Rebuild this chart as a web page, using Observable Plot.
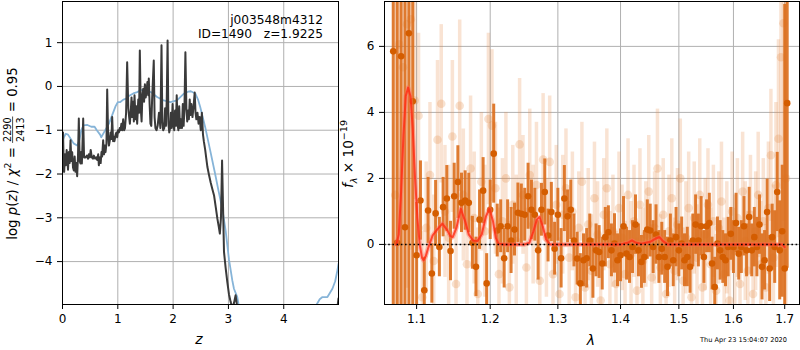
<!DOCTYPE html>
<html><head><meta charset="utf-8">
<script src="https://cdn.jsdelivr.net/npm/d3@7"></script>
<script src="https://cdn.jsdelivr.net/npm/@observablehq/plot@0.6"></script>
<style>
body{margin:0;background:#fff;}
#wrap{position:relative;width:800px;height:350px;overflow:hidden;background:#fff;}
#wrap > svg{position:absolute;top:0;}
</style></head><body><div id="wrap"></div>
<script>
// ---------- Left panel: redshift PDF ----------
const zTicks = [0, 1, 2, 3, 4];
const pzTicks = [-4, -3, -2, -1, 0, 1];
const zPdf = [0.000,0.010,0.020,0.030,0.045,0.060,0.075,0.085,0.100,0.115,
0.130,0.145,0.160,0.175,0.190,0.205,0.220,0.235,0.250,0.265,
0.280,0.295,0.310,0.325,0.337,0.350,0.362,0.374,0.390,0.416,
0.440,0.460,0.476,0.495,0.510,0.530,0.550,0.567,0.590,0.610,
0.627,0.645,0.657,0.675,0.690,0.705,0.717,0.735,0.750,0.765,
0.778,0.795,0.808,0.825,0.840,0.856,0.870,0.885,0.898,0.915,
0.930,0.940,0.960,0.975,0.989,1.005,1.020,1.035,1.049,1.065,
1.080,1.097,1.115,1.130,1.150,1.169,1.190,1.205,1.218,1.235,
1.248,1.260,1.275,1.290,1.302,1.320,1.335,1.350,1.370,1.385,
1.398,1.415,1.430,1.445,1.460,1.475,1.490,1.505,1.520,1.535,
1.550,1.560,1.575,1.590,1.605,1.620,1.650,1.665,1.680,1.700,
1.720,1.745,1.770,1.790,1.805,1.820,1.840,1.855,1.870,1.885,
1.900,1.915,1.930,1.945,1.960,1.975,1.990,2.005,2.020,2.035,
2.050,2.065,2.080,2.095,2.110,2.125,2.140,2.160,2.175,2.190,
2.205,2.222,2.240,2.255,2.270,2.285,2.300,2.315,2.330,2.350,
2.370,2.390,2.405,2.420,2.440,2.460,2.480,2.500,2.520,2.540,
2.555,2.580,2.600,2.620,2.650,2.680,2.710,2.740,2.770,2.800,
2.825,2.845,2.865,2.885,2.900,2.920,2.950,2.980,3.010,3.040,
3.070,3.100,3.130,3.150,3.175,3.200,4.950,4.975,4.990];
const logPdf = [-1.95,-1.05,-1.70,-1.95,-1.55,-1.80,-1.45,-1.62,-1.90,-1.50,
-1.75,-1.23,-1.70,-1.50,-1.85,-1.92,-1.60,-1.95,-1.75,-2.05,
-1.60,-0.73,-1.70,-1.76,-1.50,-1.76,-1.30,-0.73,-1.62,-1.62,
-1.58,-1.65,-1.55,-1.62,-1.45,-1.62,-1.65,-1.58,-1.65,-1.62,
-1.68,-1.55,-1.80,-1.62,-1.75,-1.50,-1.60,-1.23,-1.55,-1.35,
-1.50,-1.30,-0.07,-1.10,-1.35,-1.23,-1.05,-1.20,-0.70,-1.25,
-1.15,-1.25,-1.10,-1.05,-1.16,-1.00,-1.05,-0.95,-1.00,-0.85,
-1.00,-0.75,-1.00,-0.95,-0.60,0.55,-0.50,-0.70,-0.85,-0.55,
-0.25,-0.70,-0.35,-0.80,-0.20,-0.75,-0.45,-0.85,-0.30,-0.60,
0.82,-0.50,-0.80,-0.20,-0.05,-0.35,0.05,-0.25,-0.10,0.10,
-0.20,0.18,-0.40,-0.85,-0.90,-0.30,0.59,-0.70,-0.95,-1.00,
-0.90,-0.60,-0.95,0.94,-0.80,-1.00,-0.95,-0.50,-0.90,-0.30,
1.05,-0.85,-1.05,-0.95,-0.60,-0.95,-0.40,-0.85,-1.00,-0.55,
-0.90,-0.20,-0.85,-1.00,-0.45,-0.95,-0.75,-0.95,-0.40,-0.90,
-0.50,0.78,-0.50,-0.80,-0.55,-0.75,-0.30,-0.65,-0.40,-0.70,
-0.45,-0.14,-0.60,-0.75,-0.60,-0.85,-0.70,-1.00,-0.60,-1.10,
-1.25,-1.45,-1.65,-1.84,-2.03,-2.20,-2.35,-2.49,-2.75,-3.02,
-3.20,-3.36,-3.00,-1.69,-2.60,-3.78,-4.15,-4.47,-4.75,-4.92,
-5.05,-4.95,-4.77,-4.95,-5.30,-7.00,-7.00,-5.00,-4.84];
const zPrior = [0.000,0.025,0.060,0.100,0.150,0.200,0.265,0.300,0.340,0.380,
0.450,0.520,0.580,0.620,0.680,0.700,0.750,0.840,0.900,0.960,
1.000,1.040,1.100,1.150,1.200,1.280,1.350,1.420,1.500,1.560,
1.600,1.710,1.830,1.950,2.070,2.190,2.270,2.320,2.400,2.450,
2.490,2.580,2.670,2.760,2.820,2.890,2.950,3.010,3.070,3.100,
3.160,3.200,3.250,4.550,4.600,4.650,4.700,4.790,4.880,4.930,
4.970,4.990];
const logPrior = [-1.25,-1.16,-1.08,-1.10,-1.20,-1.30,-1.35,-1.25,-1.00,-0.89,
-0.88,-0.92,-0.92,-1.00,-1.10,-1.16,-1.05,-0.85,-0.65,-0.45,
-0.36,-0.36,-0.30,-0.28,-0.22,-0.16,-0.13,-0.08,-0.09,-0.12,
-0.13,-0.24,-0.32,-0.36,-0.32,-0.17,-0.12,-0.11,-0.16,-0.30,
-0.47,-0.93,-1.46,-2.00,-2.38,-2.80,-3.30,-3.95,-4.43,-4.62,
-4.81,-5.10,-6.50,-6.50,-4.97,-4.86,-4.81,-4.81,-4.62,-4.45,
-4.20,-4.05];

// ---------- Right panel: 1D spectrum ----------
const lamTicks = [1.1, 1.2, 1.3, 1.4, 1.5, 1.6, 1.7];
const fTicks = [0, 2, 4, 6];
const lamA = [1.070,1.075,1.080,1.085,1.090,1.095,1.100,1.105,1.110,1.115,
1.120,1.125,1.130,1.135,1.140,1.145,1.150,1.155,1.160,1.165,
1.170,1.175,1.180,1.185,1.190,1.195,1.200,1.205,1.210,1.215,
1.220,1.225,1.230,1.235,1.240,1.245,1.250,1.255,1.260,1.265,
1.270,1.275,1.280,1.285,1.290,1.295,1.300,1.305,1.310,1.315,
1.320,1.325,1.330,1.335,1.340,1.345,1.350,1.355,1.360,1.365,
1.370,1.375,1.380,1.385,1.390,1.395,1.400,1.405,1.410,1.415,
1.420,1.425,1.430,1.435,1.440,1.445,1.450,1.455,1.460,1.465,
1.470,1.475,1.480,1.485,1.490,1.495,1.500,1.505,1.510,1.515,
1.520,1.525,1.530,1.535,1.540,1.545,1.550,1.555,1.560,1.565,
1.570,1.575,1.580,1.585,1.590,1.595,1.600,1.605,1.610,1.615,
1.620,1.625,1.630,1.635,1.640,1.645,1.650,1.655,1.660,1.665,
1.670,1.675,1.680,1.685,1.690,1.695,1.700,1.705];
const fluxA = [5.85,0.05,5.70,0.52,6.40,4.34,-0.33,1.33,-1.39,1.03,
-0.88,0.94,-0.08,1.13,1.39,-0.20,1.46,1.89,1.26,1.33,
1.26,0.05,-0.68,0.75,1.63,-1.18,1.05,2.75,0.42,0.55,
-0.42,0.55,0.12,0.45,0.96,0.93,0.90,1.46,1.05,0.90,
-0.18,1.05,1.59,0.27,0.98,-0.13,0.90,-0.42,1.39,0.85,
1.05,0.12,-0.43,-1.18,-0.48,-0.42,0.12,-0.73,-0.18,-0.23,
-0.58,0.22,0.37,-0.18,0.03,-0.48,-0.33,0.55,-0.28,-0.38,
-0.08,0.60,-0.18,-0.53,-0.38,0.45,0.42,-0.08,0.30,-0.38,
-0.13,-0.38,-0.68,0.12,-0.48,0.22,-0.18,0.03,-0.48,-0.38,
-0.68,0.12,0.60,0.12,0.55,-0.38,0.55,0.65,-0.58,-1.29,
0.03,-0.18,-0.38,-0.48,-0.08,0.32,-0.08,0.65,-0.28,-0.08,
0.55,-0.18,0.83,-0.18,0.22,-0.08,0.60,-0.68,-0.48,0.98,
-0.73,0.22,-0.08,1.59,-0.18,0.40,-0.73,4.28];
const errA = [9,9,9,9,9,7,1.6,1.2,1.0,1.0,
0.9,1.0,0.9,0.9,1.0,0.9,1.0,1.1,0.9,0.9,
0.9,0.8,0.9,0.9,1.0,0.9,0.9,1.5,0.8,0.8,
0.9,0.8,1.0,0.8,0.9,0.9,0.8,1.0,0.9,0.8,
0.9,0.8,1.0,0.8,0.9,0.8,0.8,0.9,1.0,0.8,
0.9,0.8,0.8,0.9,0.8,0.9,0.8,0.9,0.8,0.8,
0.8,0.9,0.8,0.8,0.9,0.8,0.8,0.9,0.8,0.8,
0.8,0.9,0.8,0.8,0.8,0.9,0.8,0.8,0.9,0.8,
0.8,0.8,0.9,0.8,0.8,0.9,0.8,0.8,0.8,0.9,
0.8,0.8,0.9,0.8,0.9,0.8,0.8,0.9,0.8,0.9,
0.8,0.9,0.8,0.8,0.9,0.8,0.8,0.9,0.8,0.8,
0.9,0.8,0.9,0.8,0.9,0.9,0.9,1.0,0.9,1.0,
1.0,1.0,1.1,1.2,1.5,2.0,8,5];
const lamB = [1.0725,1.0775,1.0825,1.0875,1.0925,1.0975,1.1025,1.1075,1.1125,1.1175,
1.1225,1.1275,1.1325,1.1375,1.1425,1.1475,1.1525,1.1575,1.1625,1.1675,
1.1725,1.1775,1.1825,1.1875,1.1925,1.1975,1.2025,1.2075,1.2125,1.2175,
1.2225,1.2275,1.2325,1.2375,1.2425,1.2475,1.2525,1.2575,1.2625,1.2675,
1.2725,1.2775,1.2825,1.2875,1.2925,1.2975,1.3025,1.3075,1.3125,1.3175,
1.3225,1.3275,1.3325,1.3375,1.3425,1.3475,1.3525,1.3575,1.3625,1.3675,
1.3725,1.3775,1.3825,1.3875,1.3925,1.3975,1.4025,1.4075,1.4125,1.4175,
1.4225,1.4275,1.4325,1.4375,1.4425,1.4475,1.4525,1.4575,1.4625,1.4675,
1.4725,1.4775,1.4825,1.4875,1.4925,1.4975,1.5025,1.5075,1.5125,1.5175,
1.5225,1.5275,1.5325,1.5375,1.5425,1.5475,1.5525,1.5575,1.5625,1.5675,
1.5725,1.5775,1.5825,1.5875,1.5925,1.5975,1.6025,1.6075,1.6125,1.6175,
1.6225,1.6275,1.6325,1.6375,1.6425,1.6475,1.6525,1.6575,1.6625,1.6675,
1.6725,1.6775,1.6825,1.6875,1.6925,1.6975,1.7025];
const fluxB = [1.5,6.06,5.37,6.67,6.82,4.36,3.9,-1.6,0.5,2.1,
-0.5,3.17,4.26,1.0,0.2,3.27,-1.2,4.2,1.5,-0.6,
2.3,0.8,-1.5,1.9,0.4,3.8,3.6,1.7,-0.9,0.7,
2.0,-1.3,1.2,0.1,3.03,1.5,-0.7,2.1,0.6,1.8,
-1.1,2.57,0.2,2.5,-0.9,1.2,-1.5,0.9,1.7,-0.4,
1.0,-1.6,0.5,1.9,-1.3,0.6,-0.8,1.4,0.3,-1.7,
0.9,1.7,-0.6,0.4,-1.2,1.1,0.2,-0.9,1.5,-0.3,
0.7,-1.4,1.2,-0.5,0.3,1.6,-1.0,0.5,2.3,-0.7,
0.9,-1.5,0.4,1.4,-0.8,0.6,2.0,-1.1,0.2,1.1,
-1.6,0.8,-0.4,1.5,-1.3,0.3,1.2,-0.6,0.7,-1.4,
0.5,1.3,-0.9,0.2,-1.7,1.0,-0.2,0.8,-1.2,1.6,
0.1,-0.8,0.9,-1.5,0.4,1.5,-0.6,0.7,-1.3,1.1,
2.7,-0.4,1.8,3.2,5.67,6.7,2.0];
const errB = [8,8,8,8,7,3,2.5,2,2,2.2,
2,2.4,2.4,2,2.2,2.3,2,2.6,2,2,
2.2,2,2,2.1,2,2.6,2.3,2,2,1.9,
2,2,1.8,2,2,1.8,1.8,2,1.8,1.9,
1.8,2,1.8,2,1.7,1.8,1.7,1.8,1.8,1.7,
1.8,1.7,1.7,1.8,1.6,1.7,1.7,1.7,1.6,1.6,
1.7,1.8,1.6,1.7,1.6,1.7,1.6,1.6,1.7,1.6,
1.7,1.6,1.7,1.6,1.6,1.7,1.6,1.7,1.8,1.6,
1.7,1.6,1.7,1.8,1.6,1.7,1.8,1.6,1.7,1.7,
1.6,1.7,1.6,1.7,1.7,1.7,1.7,1.7,1.7,1.7,
1.7,1.8,1.7,1.7,1.7,1.8,1.7,1.8,1.7,1.8,
1.8,1.8,1.8,1.8,1.8,1.9,1.9,1.9,1.9,2,
2,2.2,2.5,3,4,6,8];
const modelLam = [1.074,1.077,1.080,1.083,1.086,1.089,1.092,1.095,1.098,1.101,
1.104,1.107,1.109,1.112,1.116,1.121,1.127,1.134,1.140,1.145,
1.148,1.153,1.159,1.165,1.170,1.176,1.182,1.188,1.194,1.199,
1.204,1.208,1.212,1.220,1.250,1.257,1.263,1.268,1.272,1.277,
1.282,1.288,1.400,1.412,1.419,1.426,1.435,1.450,1.460,1.466,
1.472,1.480,1.695,1.700];
const modelF = [0.00,0.30,1.60,3.30,4.50,4.75,4.50,3.50,2.00,0.80,
0.00,-0.40,-0.48,-0.35,-0.05,0.27,0.45,0.63,0.45,0.25,
0.22,0.50,1.08,0.70,0.30,0.12,0.10,0.30,0.85,1.08,
0.70,0.20,0.02,0.00,0.00,0.05,0.40,0.75,0.83,0.55,
0.15,0.00,0.00,0.05,0.12,0.05,0.02,0.08,0.18,0.22,
0.10,0.00,0.00,-0.08];

// ---------- build ----------
const wrap = document.getElementById("wrap");
const font = "DejaVu Sans";
const tickFont = 12;
const gridStyle = {stroke: "#b0b0b0", strokeOpacity: 1, strokeWidth: 1};
const minus = d => (d < 0 ? "\u2212" + Math.abs(d) : String(d));

const pdfRows = zPdf.map((z, i) => ({z, v: logPdf[i]}));
const priorRows = zPrior.map((z, i) => ({z, v: logPrior[i]}));

const left = Plot.plot({
  width: 340, height: 350,
  marginLeft: 62, marginRight: 2, marginTop: 1, marginBottom: 46,
  style: {fontFamily: font, fontSize: tickFont + "px", color: "black", background: "transparent"},
  x: {domain: [0, 4.99]},
  y: {domain: [-4.98, 1.94]},
  marks: [
    Plot.gridX(zTicks, gridStyle),
    Plot.gridY(pzTicks, gridStyle),
    Plot.line(priorRows, {x: "z", y: "v", stroke: "#86b4d8", strokeWidth: 1.8, clip: true}),
    Plot.line(pdfRows, {x: "z", y: "v", stroke: "#3a3a3a", strokeWidth: 2, clip: true}),
    Plot.axisX(zTicks, {tickSize: 5, tickPadding: 5, label: null, tickFormat: minus, fontSize: tickFont}),
    Plot.axisY(pzTicks, {tickSize: 5, tickPadding: 5, label: null, tickFormat: minus, fontSize: tickFont}),
    Plot.frame({stroke: "black", strokeWidth: 1})
  ]
});
left.style.left = "0px";
wrap.appendChild(left);

const rowsA = lamA.map((l, i) => ({l, f: fluxA[i], lo: fluxA[i] - errA[i], hi: fluxA[i] + errA[i]}));
const rowsB = lamB.map((l, i) => ({l, f: fluxB[i], lo: fluxB[i] - errB[i], hi: fluxB[i] + errB[i]}));
const modelRows = modelLam.map((l, i) => ({l, f: modelF[i]}));

const right = Plot.plot({
  width: 460, height: 350,
  marginLeft: 44, marginRight: 1, marginTop: 1, marginBottom: 46,
  style: {fontFamily: font, fontSize: tickFont + "px", color: "black", background: "transparent"},
  x: {type: "log", domain: [1.059, 1.730]},
  y: {domain: [-1.82, 7.36]},
  marks: [
    Plot.gridX(lamTicks, gridStyle),
    Plot.gridY(fTicks, gridStyle),
    Plot.ruleX(rowsB, {x: "l", y1: "lo", y2: "hi", stroke: "#e58a45", strokeOpacity: 0.24, strokeWidth: 3.5, clip: true}),
    Plot.dot(rowsB, {x: "l", y: "f", r: 4.3, fill: "#e58a45", fillOpacity: 0.26, clip: true}),
    Plot.ruleX(rowsA, {x: "l", y1: "lo", y2: "hi", stroke: "#dc6e1c", strokeOpacity: 0.9, strokeWidth: 3, clip: true}),
    Plot.dot(rowsA, {x: "l", y: "f", r: 3.3, fill: "#d45d00", clip: true}),
    Plot.line(modelRows, {x: "l", y: "f", stroke: "#ff6a5a", strokeWidth: 4.5, strokeOpacity: 0.45, clip: true}),
    Plot.line(modelRows, {x: "l", y: "f", stroke: "#ff2a12", strokeWidth: 2, strokeOpacity: 0.8, clip: true}),
    Plot.ruleY([0], {stroke: "black", strokeWidth: 1.6, strokeDasharray: "1.6,2.6"}),
    Plot.axisX(lamTicks, {tickSize: 5, tickPadding: 5, label: null, tickFormat: d => d.toFixed(1), fontSize: tickFont}),
    Plot.axisY(fTicks, {tickSize: 5, tickPadding: 5, label: null, fontSize: tickFont}),
    Plot.frame({stroke: "black", strokeWidth: 1})
  ]
});
right.style.left = "340px";
wrap.appendChild(right);

// ---------- text overlay ----------
const ov = d3.create("svg").attr("width", 800).attr("height", 350)
  .style("position", "absolute").style("left", "0px").style("top", "0px")
  .style("pointer-events", "none").attr("font-family", font).attr("fill", "black");
wrap.appendChild(ov.node());

function rich(g, parts, size) {
  let x = 0;
  for (const p of parts) {
    if (p.frac) {
      const s = size * 0.72;
      const n = g.append("text").attr("font-size", s).attr("text-anchor", "middle").text(p.frac[0]);
      const d = g.append("text").attr("font-size", s).attr("text-anchor", "middle").text(p.frac[1]);
      const w = Math.max(n.node().getComputedTextLength(), d.node().getComputedTextLength()) + 2;
      n.attr("x", x + w / 2).attr("y", -size * 0.42);
      d.attr("x", x + w / 2).attr("y", size * 0.52);
      g.append("line").attr("x1", x).attr("x2", x + w).attr("y1", -size * 0.33).attr("y2", -size * 0.33)
        .attr("stroke", "black").attr("stroke-width", 0.7);
      x += w;
    } else {
      const t = g.append("text").attr("x", x).attr("y", (p.dy || 0) * size / 11.5)
        .attr("font-size", size * (p.scale || 1))
        .attr("font-style", p.italic ? "italic" : "normal")
        .style("white-space", "pre").text(p.t);
      x += t.node().getComputedTextLength();
    }
  }
  return x;
}
// rotated label fitted to the span it covers in the picture
function vlabel(parts, xBase, yTop, yBottom) {
  const probe = ov.append("g");
  const w0 = rich(probe, parts, 12);
  probe.remove();
  const size = 12 * (yBottom - yTop) / w0;
  const g = ov.append("g");
  const W = rich(g, parts, size);
  g.attr("transform", `translate(${xBase},${(yTop + yBottom) / 2 + W / 2}) rotate(-90)`);
}

vlabel([
  {t: "log "}, {t: "p", italic: true}, {t: "("}, {t: "z", italic: true}, {t: ") / "},
  {t: "\u03c7", italic: true}, {t: "2", scale: 0.7, dy: -5}, {t: " = "},
  {frac: ["2290", "2413"]}, {t: " = 0.95"}
], 17, 67, 240);
vlabel([
  {t: "f", italic: true}, {t: "\u03bb", italic: true, scale: 0.7, dy: 3}, {t: " \u00d7 10"},
  {t: "\u221219", scale: 0.7, dy: -5}
], 353, 120, 188);

// x labels
ov.append("text").attr("x", 199).attr("y", 344).attr("text-anchor", "middle")
  .attr("font-size", 14).attr("font-style", "italic").text("z");
ov.append("text").attr("x", 591).attr("y", 345).attr("text-anchor", "middle")
  .attr("font-size", 14).attr("font-style", "italic").text("\u03bb");
// annotation
ov.append("text").attr("x", 323).attr("y", 24).attr("text-anchor", "end")
  .attr("font-size", 12.2).text("j003548m4312");
ov.append("text").attr("x", 323).attr("y", 38).attr("text-anchor", "end")
  .attr("font-size", 12.2).style("white-space", "pre").text("ID=1490   z=1.9225");
// timestamp
ov.append("text").attr("x", 787).attr("y", 342).attr("text-anchor", "end")
  .attr("font-size", 6.6).text("Thu Apr 23 15:04:07 2020");
</script></body></html>
